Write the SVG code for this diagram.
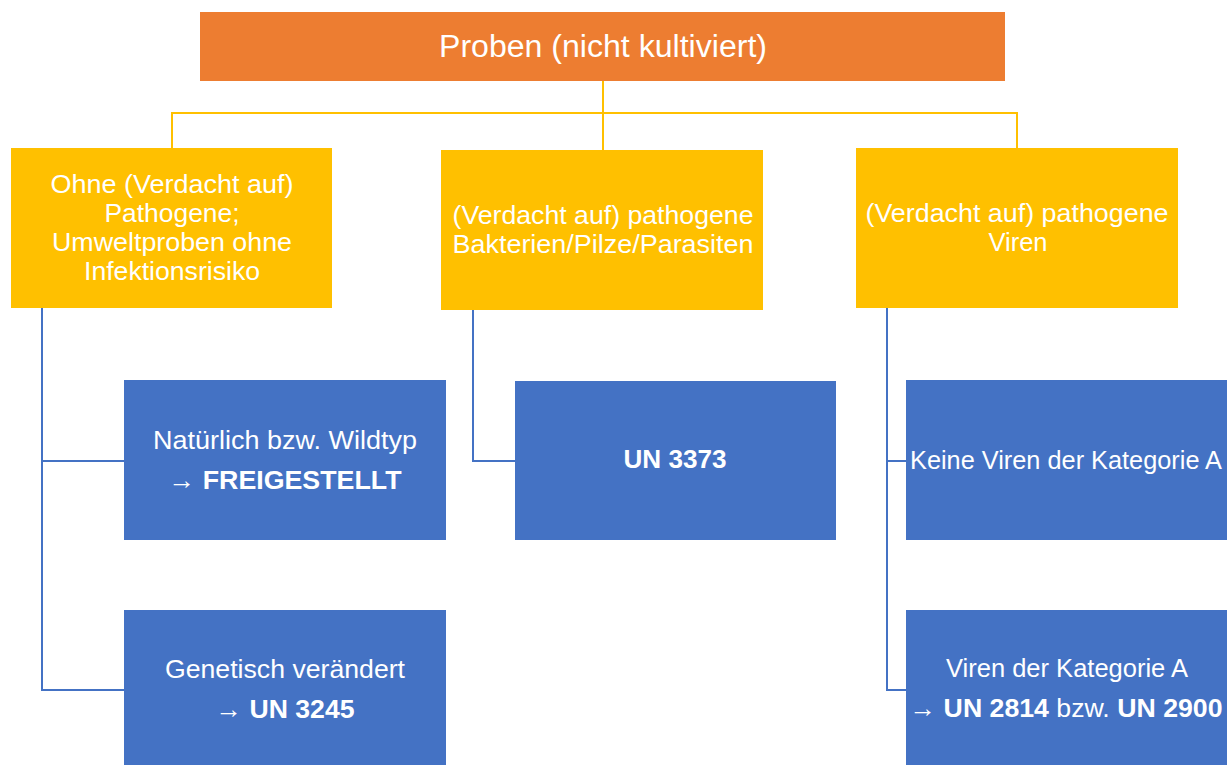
<svg xmlns="http://www.w3.org/2000/svg" width="1227" height="765" viewBox="0 0 1227 765">
<style>
.t{font-family:"Liberation Sans",Arial,sans-serif;fill:#fff;text-anchor:middle;}
.s{font-size:26px;}
.b{font-weight:bold;}
.org{fill:#ED7D31;}
.yel{fill:#FFC000;}
.blu{fill:#4472C4;}
.cy{fill:none;stroke:#FFC000;stroke-width:2;}
.cb{fill:none;stroke:#4472C4;stroke-width:2;}
</style>
<rect width="1227" height="765" fill="#fff"/>
<g id="connectors">
<path class="cy" d="M603 81V113M172 150V113H1017V150M603 113V150"/>
<path class="cb" d="M42 308V690H124M42 461H124"/>
<path class="cb" d="M473 310V461H515"/>
<path class="cb" d="M887 308V690H906M887 461H906"/>
</g>
<g id="root">
<rect class="org" x="200" y="12" width="805" height="69"/>
<text class="t" x="603" y="57" font-size="31" textLength="328" lengthAdjust="spacingAndGlyphs">Proben (nicht kultiviert)</text>
</g>
<g id="ohne">
<rect class="yel" x="11" y="148" width="321" height="160"/>
<text class="t s" x="172" y="193" textLength="243" lengthAdjust="spacingAndGlyphs">Ohne (Verdacht auf)</text>
<text class="t s" x="172" y="222" textLength="135" lengthAdjust="spacingAndGlyphs">Pathogene;</text>
<text class="t s" x="172" y="251" textLength="240" lengthAdjust="spacingAndGlyphs">Umweltproben ohne</text>
<text class="t s" x="172" y="280" textLength="176" lengthAdjust="spacingAndGlyphs">Infektionsrisiko</text>
</g>
<g id="bakterien">
<rect class="yel" x="441" y="150" width="322" height="160"/>
<text class="t s" x="603" y="224" textLength="301" lengthAdjust="spacingAndGlyphs">(Verdacht auf) pathogene</text>
<text class="t s" x="603" y="253" textLength="301" lengthAdjust="spacingAndGlyphs">Bakterien/Pilze/Parasiten</text>
</g>
<g id="viren">
<rect class="yel" x="856" y="148" width="322" height="160"/>
<text class="t s" x="1017" y="222" textLength="303" lengthAdjust="spacingAndGlyphs">(Verdacht auf) pathogene</text>
<text class="t s" x="1018" y="251" textLength="59" lengthAdjust="spacingAndGlyphs">Viren</text>
</g>
<g id="natuerlich">
<rect class="blu" x="124" y="380" width="322" height="160"/>
<text class="t s" x="285" y="449" textLength="264" lengthAdjust="spacingAndGlyphs">Natürlich bzw. Wildtyp</text>
<text class="t s" x="285" y="489" textLength="233" lengthAdjust="spacingAndGlyphs">→ <tspan class="b">FREIGESTELLT</tspan></text>
</g>
<g id="genetisch">
<rect class="blu" x="124" y="610" width="322" height="155"/>
<text class="t s" x="285" y="678" textLength="240" lengthAdjust="spacingAndGlyphs">Genetisch verändert</text>
<text class="t s" x="285" y="718" textLength="139" lengthAdjust="spacingAndGlyphs">→ <tspan class="b">UN 3245</tspan></text>
</g>
<g id="un3373">
<rect class="blu" x="515" y="381" width="321" height="159"/>
<text class="t s b" x="675" y="468" textLength="103" lengthAdjust="spacingAndGlyphs">UN 3373</text>
</g>
<g id="keine">
<rect class="blu" x="906" y="380" width="321" height="160"/>
<text class="t s" x="1066" y="469" textLength="312" lengthAdjust="spacingAndGlyphs">Keine Viren der Kategorie A</text>
</g>
<g id="kategorieA">
<rect class="blu" x="906" y="610" width="321" height="155"/>
<text class="t s" x="1067" y="677" textLength="242" lengthAdjust="spacingAndGlyphs">Viren der Kategorie A</text>
<text class="t s" x="1066" y="717" textLength="313" lengthAdjust="spacingAndGlyphs">→ <tspan class="b">UN 2814</tspan> bzw. <tspan class="b">UN 2900</tspan></text>
</g>
</svg>
